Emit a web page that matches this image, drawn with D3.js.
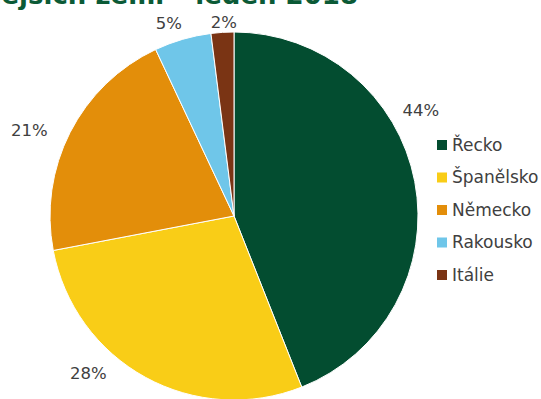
<!DOCTYPE html>
<html>
<head>
<meta charset="utf-8">
<script src="https://cdn.jsdelivr.net/npm/d3@7"></script>
<style>
  html, body { margin: 0; padding: 0; background: #fff; }
  svg { display: block; font-family: "DejaVu Sans", Verdana, sans-serif; }
</style>
</head>
<body>
<svg id="chart" width="541" height="399"></svg>
<script>
// Podíl zemí – leden 2018
const countries = ["Řecko", "Španělsko", "Německo", "Rakousko", "Itálie"];
const shares = [44, 28, 21, 5, 2];
const colors = ["#034d30", "#f9cd17", "#e38e0a", "#6fc6e9", "#7a3414"];
const titleText = "Podíl nejvýznamnějších zemí – leden 2018";

const svg = d3.select("#chart");
const cx = 234, cy = 216, R = 184;

// Title (partly above the visible area)
svg.append("text")
  .attr("x", 358).attr("y", 4)
  .attr("text-anchor", "end")
  .attr("font-size", 26).attr("font-weight", "bold")
  .attr("fill", "#0b5a36")
  .text(titleText);

const data = countries.map((c, i) => ({ name: c, value: shares[i], color: colors[i] }));

const pie = d3.pie().value(d => d.value).sort(null);
const arc = d3.arc().innerRadius(0).outerRadius(R);

const g = svg.append("g").attr("transform", `translate(${cx},${cy})`);
const arcs = pie(data);

g.selectAll("path.slice")
  .data(arcs)
  .join("path")
  .attr("class", "slice")
  .attr("d", arc)
  .attr("fill", d => d.data.color)
  .attr("stroke", "#fff")
  .attr("stroke-width", 1);

// Percentage labels: placed outside the pie, each nudged along its own
// angle (degrees, clockwise from 12 o'clock) and radius to avoid crowding.
const labelPlacement = [
  { angle: 60.4, r: 215 },
  { angle: 222.9, r: 214 },
  { angle: 292.8, r: 222 },
  { angle: 341.3, r: 203 },
  { angle: 357.0, r: 194 }
];
g.selectAll("text.pct")
  .data(arcs)
  .join("text")
  .attr("class", "pct")
  .attr("transform", (d, i) => {
    const p = labelPlacement[i];
    const a = p.angle * Math.PI / 180;
    return `translate(${p.r * Math.sin(a)},${-p.r * Math.cos(a)})`;
  })
  .attr("text-anchor", "middle")
  .attr("dy", "0.35em")
  .attr("font-size", 16.5)
  .attr("fill", "#404040")
  .text(d => d.data.value + "%");

// Legend
const legend = svg.append("g").attr("transform", "translate(437,145)");
const rowH = 32.5;
const items = legend.selectAll("g.item")
  .data(data)
  .join("g")
  .attr("class", "item")
  .attr("transform", (d, i) => `translate(0,${i * rowH})`);
items.append("rect")
  .attr("x", 0).attr("y", -5)
  .attr("width", 10).attr("height", 10)
  .attr("fill", d => d.color);
items.append("text")
  .attr("x", 15).attr("y", 0)
  .attr("dy", "0.35em")
  .attr("font-size", 17)
  .attr("fill", "#404040")
  .text(d => d.name);
</script>
</body>
</html>
